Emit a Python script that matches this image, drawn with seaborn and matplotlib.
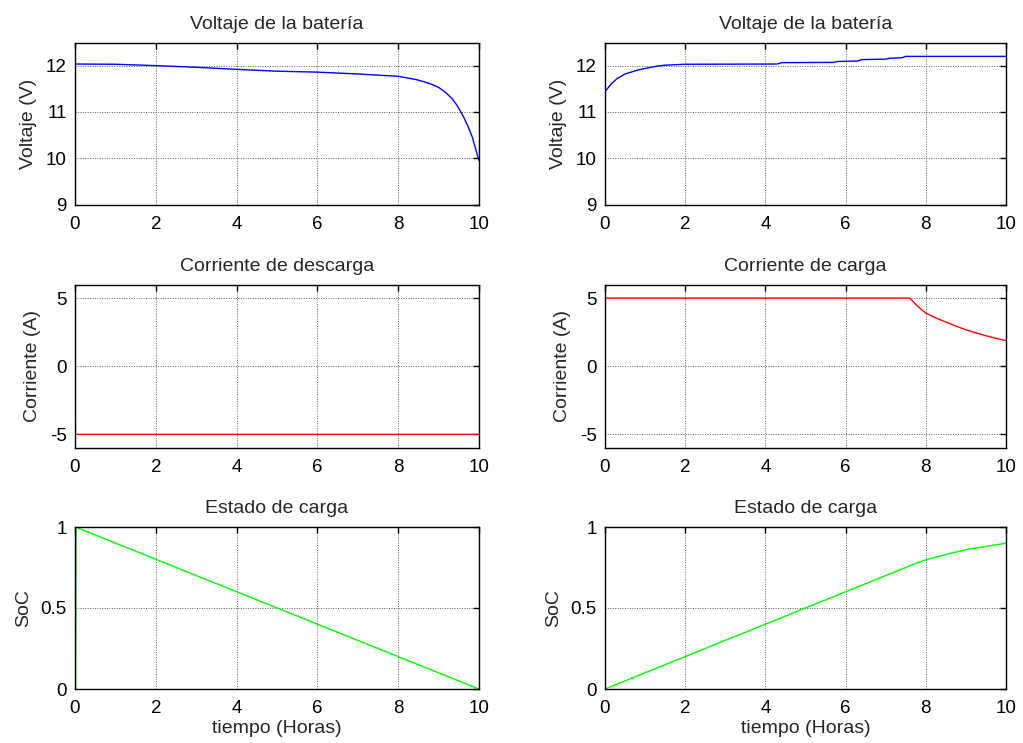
import matplotlib
matplotlib.use("Agg")
import matplotlib.pyplot as plt
import seaborn as sns
import numpy as np
import pandas as pd

# ---------------- data ----------------
t_v_desc = [0, 0.005, 0.01, 1.0, 2.0, 3.0, 4.0, 5.0, 6.0, 7.0, 7.6, 8.0, 8.44, 8.65, 8.85, 9.0,
            9.1, 9.2, 9.34, 9.45, 9.55, 9.63, 9.71, 9.78, 9.84, 9.93, 10.0]
v_desc = [9.0, 12.0, 12.035, 12.03, 12.0, 11.965, 11.92, 11.88, 11.86, 11.82, 11.79, 11.77, 11.70,
          11.65, 11.59, 11.53, 11.47, 11.40, 11.28, 11.15, 11.0, 10.87, 10.72, 10.58, 10.44, 10.16, 9.95]

t_v_carga = [0, 0.005, 0.01, 0.15, 0.3, 0.5, 0.8, 1.0, 1.3, 1.5, 2.0, 4.3, 4.4, 5.7, 5.8, 6.3,
             6.4, 7.0, 7.1, 7.4, 7.5, 10.0]
v_carga = [9.0, 11.3, 11.45, 11.6, 11.72, 11.82, 11.9, 11.94, 11.99, 12.01, 12.03, 12.035, 12.065,
           12.07, 12.09, 12.1, 12.13, 12.14, 12.16, 12.17, 12.2, 12.2]

t_i_desc = [0, 0.01, 10.0]
i_desc = [0.0, -5.0, -5.0]

t_i_carga = [0, 0.01, 7.6, 7.8, 8.0, 8.25, 8.5, 8.75, 9.0, 9.25, 9.5, 9.75, 10.0]
i_carga = [0.0, 5.0, 5.0, 4.4, 3.9, 3.55, 3.25, 2.95, 2.68, 2.45, 2.24, 2.05, 1.88]

t_soc_desc = [0, 0.01, 10.0]
soc_desc = [0.0, 1.0, 0.0]

t_soc_carga = [0, 2.0, 4.0, 6.0, 7.5, 7.8, 8.0, 8.2, 8.5, 9.0, 9.5, 10.0]
soc_carga = [0.0, 0.2, 0.4, 0.6, 0.75, 0.78, 0.797, 0.81, 0.83, 0.86, 0.88, 0.90]

xticks = [0, 2, 4, 6, 8, 10]

# ---------------- style ----------------
sns.set_style("white")
plt.rcParams['font.family'] = ['Liberation Sans', 'DejaVu Sans']

fig = plt.figure(figsize=(10.23, 7.43), dpi=100)

W = 1023.0
H = 743.0
cols = [(75, 479), (605, 1006)]
rows = [(42.5, 204.5), (284.5, 448), (527, 689)]

panels_l = [
    (t_v_desc, v_desc, 'blue', 'Voltaje de la batería', 'Voltaje (V)', (9, 12.5), [9, 10, 11, 12], ['9', '10', '11', '12']),
    (t_i_desc, i_desc, 'red', 'Corriente de descarga', 'Corriente (A)', (-6, 6), [-5, 0, 5], ['-5', '0', '5']),
    (t_soc_desc, soc_desc, '#00ff00', 'Estado de carga', 'SoC', (0, 1), [0, 0.5, 1], ['0', '0.5', '1']),
]
panels_r = [
    (t_v_carga, v_carga, 'blue', 'Voltaje de la batería', 'Voltaje (V)', (9, 12.5), [9, 10, 11, 12], ['9', '10', '11', '12']),
    (t_i_carga, i_carga, 'red', 'Corriente de carga', 'Corriente (A)', (-6, 6), [-5, 0, 5], ['-5', '0', '5']),
    (t_soc_carga, soc_carga, '#00ff00', 'Estado de carga', 'SoC', (0, 1), [0, 0.5, 1], ['0', '0.5', '1']),
]

for r in range(3):
    for c in range(2):
        x0, x1 = cols[c]
        y0, y1 = rows[r]
        ax = fig.add_axes([x0 / W, 1 - y1 / H, (x1 - x0) / W, (y1 - y0) / H])
        tx, ty, col, title, ylab, ylim, yt, ytl = (panels_l if c == 0 else panels_r)[r]
        df = pd.DataFrame({'t': tx, 'y': ty})
        ax.grid(True, color='#606060', linestyle=(0, (1, 1.5)), linewidth=0.7)
        ax.set_axisbelow(True)
        sns.lineplot(data=df, x='t', y='y', ax=ax, color=col, linewidth=1.0,
                     estimator=None, sort=False)
        if r == 2 and c == 0:
            ax.plot([tx[0], tx[1]], [ty[0], ty[1]], color=col, linewidth=2.0)
        ax.set_xlim(0, 10)
        ax.set_ylim(*ylim)
        ax.set_xticks(xticks)
        ax.set_xticklabels([str(v) for v in xticks])
        ax.set_yticks(yt)
        ax.set_yticklabels(ytl)
        ax.set_title(title, fontsize=14, pad=10)
        ax.set_ylabel(ylab, fontsize=14, labelpad=6)
        if r == 2:
            ax.set_xlabel('tiempo (Horas)', fontsize=14, labelpad=2)
        else:
            ax.set_xlabel('')
        ax.tick_params(direction='in', top=True, right=True, length=4, width=1,
                       labelsize=13.5, colors='black')
        ax.tick_params(axis='x', pad=8)
        ax.tick_params(axis='y', pad=6)
        for s in ax.spines.values():
            s.set_visible(True)
            s.set_color('black')
            s.set_linewidth(1.0)

fig.savefig('out.png', dpi=100, facecolor='white')
